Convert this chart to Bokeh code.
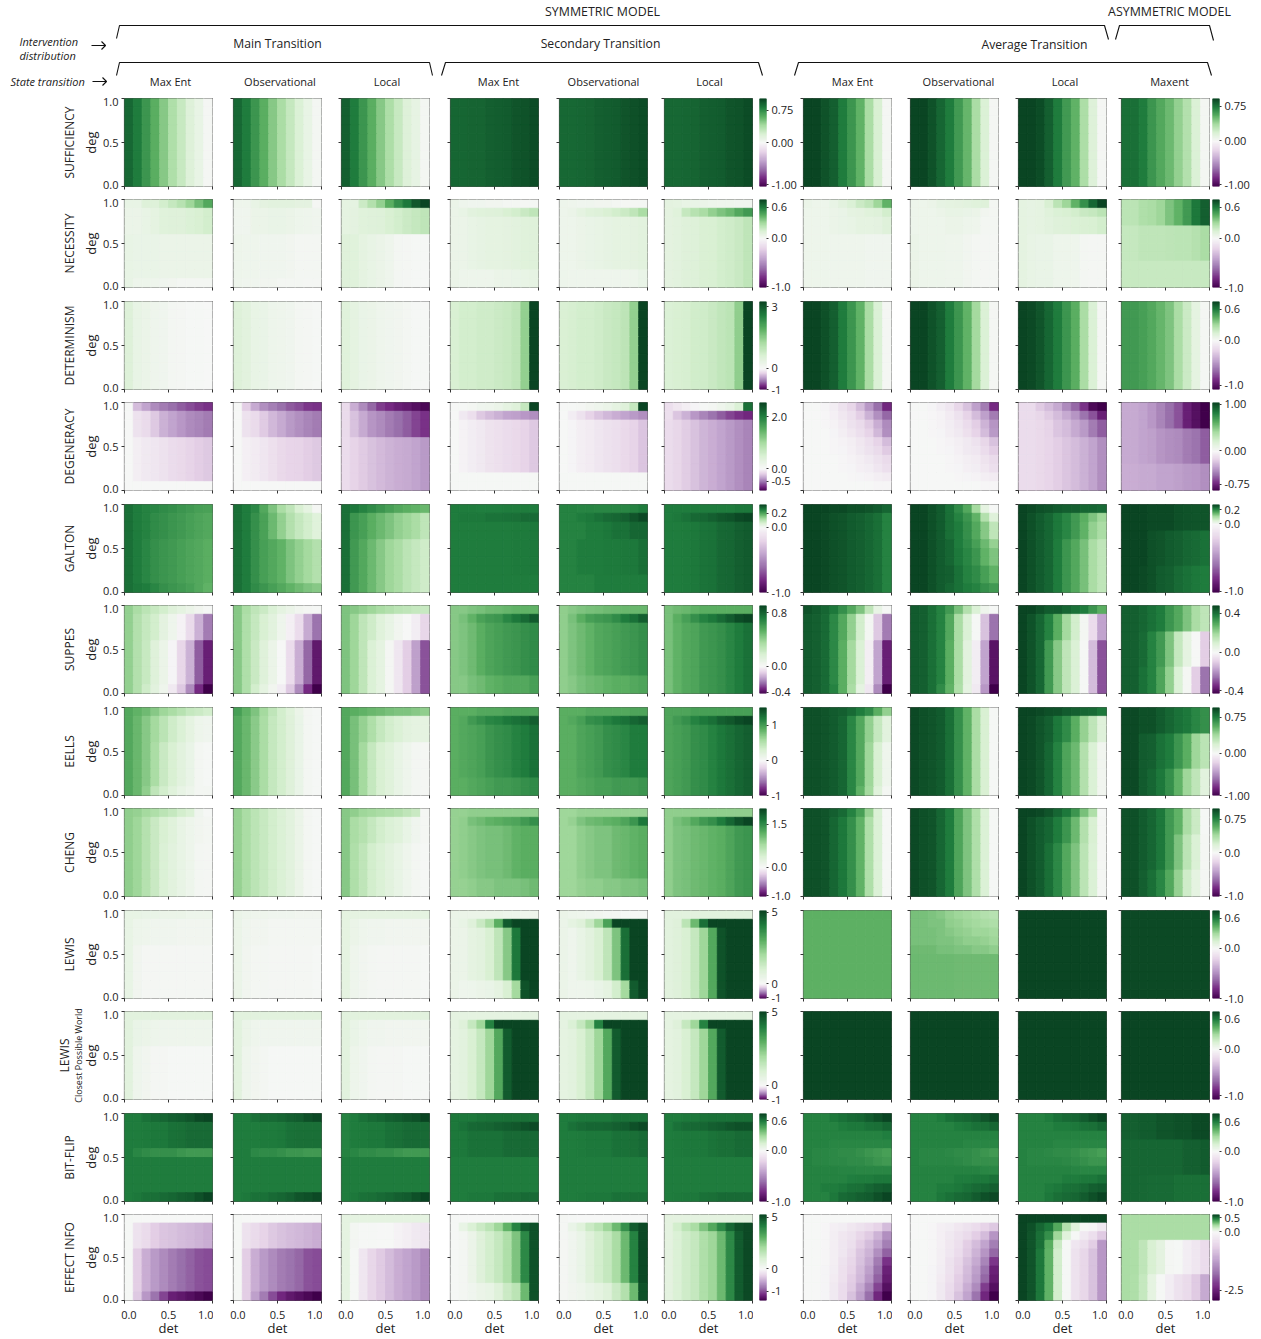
from bokeh.embed import file_html
from bokeh.resources import INLINE
from bokeh.plotting import figure
from bokeh.layouts import column, row
from bokeh.models import (ColumnDataSource, LinearColorMapper, LinearAxis, FixedTicker, Range1d)
from bokeh.transform import transform
from bokeh.core.properties import value

FONT = "Open Sans"

# ---- chart text ----
row_titles = ["SUFFICIENCY", "NECESSITY", "DETERMINISM", "DEGENERACY", "GALTON", "SUPPES",
              "EELLS", "CHENG", "LEWIS", "LEWIS", "BIT-FLIP", "EFFECT INFO"]
col_titles = ["Max Ent", "Observational", "Local", "Max Ent", "Observational", "Local",
              "Max Ent", "Observational", "Local", "Maxent"]

# ---- values: colour level of each cell (-100 purple .. 0 white .. 100 green) ----
# one entry per panel; each panel lists (number of rows, 10 det cells) from deg=1 downwards
sufficiency = [
 [(10,[87,80,70,60,48,36,27,17,10,2])],
 [(10,[87,80,70,60,48,38,28,18,10,3])],
 [(10,[90,80,70,60,48,37,27,17,11,3])],
 [(10,[88,88,89,89,90,91,92,94,95,97])],
 [(10,[87,87,88,89,90,91,92,94,96,97])],
 [(10,[87,87,88,89,90,91,92,94,95,97])],
 [(10,[100,100,95,90,80,70,58,38,20,2])],
 [(10,[100,100,95,88,80,68,57,38,18,2])],
 [(10,[100,100,97,90,80,68,58,37,17,2])],
 [(10,[85,85,80,70,62,55,45,35,18,3])],
]
necessity = [
 [(1,[10,10,17,17,22,28,33,42,52,62]),(3,[8,8,10,12,15,16,16,18,20,22]),(5,[10,9,9,9,8,8,8,8,8,8]),(1,[10,7,7,6,5,4,3,3,3,3])],
 [(1,[6,6,10,13,14,14,14,13,13,2]),(3,[5,5,8,8,9,9,8,7,6,5]),(5,[7,6,6,5,5,5,4,3,3,3]),(1,[6,5,5,4,4,3,3,3,2,2])],
 [(1,[12,12,25,35,45,60,72,82,93,100]),(3,[12,13,15,16,17,20,22,25,28,30]),(6,[16,15,12,10,8,6,3,2,1,1])],
 [(1,[8,6,5,5,4,4,3,3,2,2]),(1,[8,10,14,15,16,17,20,22,26,30]),(6,[8,8,10,11,12,12,13,14,15,16]),(2,[8,7,7,7,7,8,8,9,10,11])],
 [(1,[7,6,5,5,4,4,3,2,2,2]),(1,[7,8,12,15,17,19,22,25,30,38]),(6,[7,7,8,9,10,11,12,12,13,14]),(2,[7,6,6,6,6,6,6,6,7,9])],
 [(1,[13,12,10,9,8,7,6,6,5,5]),(1,[13,15,28,33,38,45,50,55,62,68]),(8,[13,14,16,17,19,20,22,24,26,30])],
 [(1,[8,7,7,10,14,18,25,30,42,58]),(1,[7,7,7,8,9,12,13,15,17,22]),(2,[7,7,7,8,9,10,12,12,13,16]),(6,[7,7,7,6,6,6,6,5,5,5])],
 [(1,[7,7,8,11,12,13,14,15,16,3]),(1,[7,7,7,8,10,10,9,8,4,3]),(2,[7,7,7,7,8,8,7,6,3,3]),(6,[8,7,7,7,6,6,4,3,2,2])],
 [(1,[12,11,12,20,32,42,58,72,88,100]),(1,[12,11,12,15,18,20,22,26,28,32]),(2,[12,11,12,14,16,17,18,19,20,22]),(6,[12,10,9,9,7,7,6,3,2,2])],
 [(3,[32,32,36,38,42,50,58,68,82,90]),(4,[28,28,30,30,30,31,32,32,34,38]),(3,[27,27,27,27,27,27,27,27,27,27])],
]
determinism = [
 [(10,[17,10,8,6,5,3,2,1,1,0])],
 [(10,[17,14,10,9,7,6,5,3,2,1])],
 [(10,[15,12,9,8,6,5,4,3,1,1])],
 [(10,[20,22,22,24,24,25,27,30,45,100])],
 [(10,[19,21,22,22,24,26,28,31,45,100])],
 [(10,[18,20,21,23,24,26,29,32,46,100])],
 [(10,[100,100,96,90,80,70,58,38,18,2])],
 [(10,[100,100,95,90,80,70,58,40,18,2])],
 [(10,[100,98,94,88,80,70,60,38,18,2])],
 [(10,[68,68,66,62,57,50,38,25,12,2])],
]
degeneracy = [
 [(1,[0,-30,-40,-50,-55,-60,-65,-70,-75,-78]),(3,[0,-12,-16,-25,-35,-40,-45,-50,-52,-55]),(5,[0,-5,-8,-10,-12,-15,-17,-20,-22,-25]),(1,[0,0,0,0,0,0,0,0,0,0])],
 [(1,[0,-22,-38,-48,-54,-60,-66,-70,-76,-78]),(3,[0,-12,-16,-24,-32,-38,-44,-48,-52,-55]),(5,[0,-4,-7,-10,-13,-17,-19,-20,-22,-25]),(1,[0,0,0,0,0,0,0,0,0,0])],
 [(1,[-16,-36,-50,-62,-75,-80,-85,-88,-92,-96]),(3,[-16,-28,-38,-46,-50,-55,-60,-65,-72,-78]),(6,[-15,-20,-24,-28,-31,-34,-36,-38,-40,-44])],
 [(1,[0,1,3,5,6,8,12,16,28,100]),(1,[0,-8,-14,-25,-30,-35,-40,-42,-45,-48]),(6,[0,-3,-6,-8,-11,-13,-15,-17,-20,-25]),(2,[1,1,1,1,1,1,1,1,1,1])],
 [(1,[0,1,2,4,6,8,12,16,28,100]),(1,[0,-6,-12,-20,-26,-32,-36,-40,-44,-48]),(6,[0,-2,-5,-7,-10,-12,-14,-17,-20,-26]),(2,[1,1,1,1,1,1,1,1,1,1])],
 [(1,[-14,-9,-5,-2,1,3,6,10,18,85]),(1,[-14,-26,-35,-45,-52,-58,-65,-72,-78,-82]),(8,[-15,-18,-23,-28,-33,-36,-40,-44,-48,-52])],
 [(1,[0,0,-2,-6,-12,-18,-30,-45,-60,-82]),(1,[0,0,-1,-4,-9,-14,-22,-35,-48,-62]),(1,[0,0,-1,-3,-7,-12,-16,-24,-36,-50]),(1,[0,0,0,-2,-5,-9,-14,-20,-32,-48]),(1,[0,0,0,-1,-3,-5,-9,-14,-20,-30]),(1,[0,0,0,-1,-2,-4,-8,-12,-16,-24]),(1,[0,0,0,0,-1,-3,-5,-8,-12,-16]),(1,[0,0,0,0,-1,-2,-4,-6,-10,-14]),(1,[0,0,0,0,0,-1,-2,-3,-5,-7]),(1,[0,0,0,0,0,0,0,0,-1,-1])],
 [(1,[0,0,-2,-6,-10,-18,-28,-42,-55,-80]),(1,[0,0,-1,-3,-7,-12,-20,-30,-42,-55]),(1,[0,0,-1,-3,-6,-10,-15,-22,-34,-46]),(1,[0,0,-1,-2,-5,-8,-13,-20,-30,-44]),(1,[0,0,0,-1,-3,-5,-8,-12,-18,-28]),(1,[0,0,0,-1,-2,-4,-8,-10,-15,-22]),(1,[0,0,0,0,-1,-3,-5,-7,-11,-16]),(1,[0,0,0,0,-1,-2,-4,-6,-9,-14]),(1,[0,0,0,0,0,-1,-2,-3,-5,-7]),(1,[0,0,0,0,0,0,0,0,-1,-1])],
 [(1,[-15,-15,-24,-30,-38,-50,-62,-78,-95,-100]),(1,[-15,-15,-18,-24,-30,-38,-46,-58,-68,-85]),(2,[-15,-15,-17,-20,-26,-30,-38,-44,-55,-65]),(6,[-15,-15,-17,-19,-22,-26,-30,-35,-40,-48])],
 [(3,[-38,-38,-40,-45,-52,-60,-68,-85,-92,-100]),(4,[-38,-38,-40,-42,-46,-48,-50,-55,-58,-65]),(3,[-36,-36,-38,-38,-40,-40,-42,-44,-45,-48])],
]
galton = [
 [(1,[85,80,78,76,74,72,70,68,66,65]),(3,[85,80,78,74,72,70,68,66,64,62]),(5,[85,80,76,72,70,68,66,64,62,60]),(1,[85,82,80,76,72,70,68,66,62,58])],
 [(1,[85,80,75,62,50,38,30,20,12,2]),(3,[85,80,72,65,55,45,35,28,22,15]),(5,[85,80,72,66,62,58,50,45,40,35]),(1,[85,80,74,70,66,62,58,54,50,48])],
 [(1,[85,82,78,74,70,66,62,60,58,56]),(3,[85,70,66,60,55,50,45,42,38,30]),(6,[85,68,62,55,48,42,38,32,28,24])],
 [(1,[80,80,80,79,79,79,80,80,80,80]),(1,[80,82,82,82,83,83,84,85,86,86]),(6,[80,80,80,80,80,80,80,81,81,82]),(2,[80,80,80,80,80,80,80,80,80,80])],
 [(1,[78,78,77,77,76,76,76,76,78,80]),(1,[78,78,80,82,84,86,88,90,94,98]),(2,[78,78,78,80,80,82,84,84,88,88]),(4,[78,78,80,80,80,81,81,82,82,85]),(2,[78,78,78,78,80,80,80,80,80,80])],
 [(1,[80,80,80,80,80,80,80,80,82,82]),(1,[80,82,84,87,88,90,93,95,98,100]),(8,[80,80,81,82,83,84,87,88,90,92])],
 [(1,[100,100,100,98,98,96,96,94,92,88]),(9,[100,100,98,96,94,92,90,88,85,78])],
 [(1,[100,100,96,92,84,74,62,40,12,1]),(1,[100,100,96,92,85,78,70,58,35,16]),(2,[100,100,96,92,85,80,72,62,48,30]),(1,[100,100,96,92,88,80,74,66,55,44]),(2,[100,100,96,92,88,82,76,70,58,50]),(2,[100,100,96,92,90,84,78,74,66,58]),(1,[100,100,96,92,88,84,80,78,72,68])],
 [(1,[100,98,96,94,92,90,90,88,88,86]),(1,[100,96,92,88,82,76,68,60,50,42]),(2,[100,96,92,88,82,76,68,58,45,38]),(6,[100,96,92,88,80,70,62,52,38,30])],
 [(3,[100,100,100,98,98,98,96,95,94,94]),(4,[100,100,100,96,94,92,90,88,86,84]),(3,[100,100,98,96,92,90,86,84,82,80])],
]
suppes = [
 [(1,[45,38,32,27,22,16,12,8,4,1]),(3,[45,35,28,22,13,6,-3,-16,-35,-55]),(5,[45,35,27,16,8,-2,-18,-35,-65,-85]),(1,[45,35,24,14,6,-8,-25,-50,-80,-100])],
 [(1,[48,38,30,25,18,12,8,4,2,1]),(3,[48,36,28,20,14,6,-4,-15,-38,-58]),(5,[48,36,26,16,8,0,-15,-36,-62,-88]),(1,[48,36,22,12,4,-6,-25,-50,-80,-100])],
 [(1,[50,48,45,42,38,35,32,30,28,27]),(3,[50,42,30,24,15,10,4,0,-6,-18]),(6,[50,42,30,18,12,2,-10,-22,-42,-68])],
 [(1,[48,48,50,52,54,55,57,58,58,58]),(1,[48,52,58,65,68,70,76,82,86,92]),(6,[48,50,54,60,64,66,68,70,72,74]),(2,[48,48,52,54,58,60,62,62,62,66])],
 [(1,[46,48,50,52,53,54,55,56,56,56]),(1,[46,52,60,66,68,70,74,80,84,90]),(6,[46,50,54,58,62,64,66,68,70,72]),(2,[46,48,52,54,56,58,60,60,62,64])],
 [(1,[52,54,56,58,60,60,60,60,60,60]),(1,[52,60,66,72,78,82,86,92,97,100]),(8,[52,58,62,64,68,70,72,76,80,84])],
 [(1,[95,92,88,82,72,62,50,30,10,1]),(3,[92,90,86,75,62,45,22,3,-25,-55]),(5,[92,90,86,75,60,40,18,-5,-40,-85]),(1,[92,90,86,78,60,38,12,-10,-50,-100])],
 [(1,[92,90,85,78,68,52,35,18,6,1]),(3,[92,90,85,78,62,38,18,1,-28,-58]),(5,[92,90,85,78,60,38,14,-6,-40,-90]),(1,[92,90,85,74,58,36,12,-8,-45,-100])],
 [(1,[100,100,96,92,92,88,84,80,70,60]),(3,[100,95,88,78,60,40,22,3,-15,-40]),(6,[100,95,88,68,48,30,18,1,-30,-68])],
 [(3,[90,90,88,84,80,70,62,50,38,30]),(4,[90,90,86,78,68,50,28,12,0,-22]),(3,[90,90,84,78,64,45,18,2,-22,-58])],
]
eells = [
 [(1,[62,58,54,48,42,38,33,28,25,22]),(3,[62,56,48,40,32,24,18,12,7,5]),(5,[62,56,48,38,26,20,14,9,3,1]),(1,[62,56,46,30,22,15,10,7,3,3])],
 [(1,[66,58,50,40,30,22,15,8,3,1]),(9,[62,56,47,38,28,22,16,9,3,1])],
 [(1,[62,60,58,56,54,52,50,50,48,46]),(3,[62,52,44,36,28,22,18,14,12,12]),(6,[62,52,40,28,20,15,10,6,3,2])],
 [(1,[60,60,60,62,62,62,64,64,64,64]),(1,[60,62,68,72,76,78,82,84,86,90]),(6,[60,62,64,66,70,72,74,78,80,84]),(2,[60,60,62,64,66,68,68,70,72,74])],
 [(1,[60,60,60,62,62,62,62,62,64,64]),(1,[60,62,66,72,74,78,82,84,88,90]),(6,[60,60,64,66,68,72,74,76,80,80]),(2,[60,60,62,64,66,66,68,68,68,70])],
 [(1,[64,64,64,66,66,66,66,66,66,66]),(1,[64,68,72,78,82,85,90,93,97,100]),(8,[64,66,68,72,74,78,82,85,88,90])],
 [(1,[96,96,94,92,90,86,80,74,60,45]),(3,[96,96,94,92,88,76,62,45,28,14]),(5,[96,96,94,92,88,76,62,42,20,6]),(1,[96,96,94,92,88,76,58,40,15,3])],
 [(10,[98,96,94,92,85,72,58,38,20,1])],
 [(1,[100,100,98,96,95,92,90,88,86,82]),(3,[100,98,94,90,82,74,60,44,30,16]),(6,[100,98,94,88,78,64,55,35,18,4])],
 [(3,[98,98,96,96,92,88,84,82,76,72]),(4,[98,98,92,90,84,80,70,60,42,32]),(3,[98,98,92,88,82,72,58,42,30,14])],
]
cheng = [
 [(1,[46,44,40,36,32,28,22,18,5,1]),(3,[46,42,34,26,20,15,10,7,4,3]),(6,[46,42,34,26,18,14,10,7,3,2])],
 [(10,[44,38,32,27,22,18,14,8,3,1])],
 [(1,[48,46,42,40,38,36,34,30,26,2]),(3,[48,38,34,28,22,18,15,10,5,2]),(6,[48,36,30,22,18,14,10,6,3,1])],
 [(1,[44,44,46,46,46,46,46,46,46,46]),(1,[44,46,52,54,58,60,62,64,68,72]),(6,[44,46,48,50,52,52,54,58,60,60]),(2,[44,44,46,48,48,50,50,50,52,54])],
 [(1,[42,42,44,44,44,44,44,44,44,44]),(1,[42,44,50,54,56,58,60,64,70,82]),(6,[42,42,46,48,50,50,54,56,58,60]),(2,[42,42,44,46,46,48,48,50,50,52])],
 [(1,[46,46,46,46,46,46,46,46,46,46]),(1,[46,52,56,62,68,72,80,88,95,100]),(8,[46,50,52,54,56,58,60,64,68,70])],
 [(1,[96,96,94,90,86,78,66,44,18,1]),(9,[96,96,94,88,82,72,58,36,18,1])],
 [(10,[98,96,94,88,80,64,50,36,18,1])],
 [(1,[100,100,98,94,88,82,70,52,36,1]),(3,[100,96,92,88,80,70,55,35,20,2]),(6,[100,96,92,85,75,62,50,32,18,2])],
 [(3,[96,96,92,88,82,68,58,38,25,1]),(4,[96,96,92,88,82,68,50,32,18,2]),(3,[96,96,90,85,76,62,44,24,12,2])],
]
lewis = [
 [(1,[10,10,9,9,8,8,8,7,7,7]),(3,[10,7,6,5,5,5,4,4,4,4]),(6,[10,4,2,2,2,2,2,2,2,2])],
 [(1,[8,7,6,6,5,5,5,4,4,4]),(3,[8,5,4,4,3,3,3,3,3,3]),(6,[8,4,3,3,2,2,2,2,2,1])],
 [(1,[12,12,12,12,12,12,12,12,12,12]),(3,[12,8,6,5,5,4,4,4,4,4]),(6,[12,6,4,3,2,2,2,2,2,1])],
 [(1,[8,8,8,8,8,8,7,7,6,6]),(1,[8,10,16,26,38,60,92,100,100,100]),(6,[8,8,12,14,20,30,48,82,100,100]),(2,[8,6,7,8,9,12,20,40,95,100])],
 [(1,[8,7,6,5,4,3,2,1,1,1]),(1,[8,12,16,26,42,65,100,100,100,100]),(6,[8,6,10,14,20,30,50,85,100,100]),(2,[8,6,6,7,9,12,22,40,92,100])],
 [(1,[14,14,14,14,14,14,14,14,14,14]),(1,[14,16,32,55,85,100,100,100,100,100]),(8,[14,16,20,28,42,62,95,100,100,100])],
 [(10,[59,59,59,59,59,59,59,59,59,59])],
 [(1,[52,52,50,48,44,42,40,38,35,33]),(1,[52,52,50,50,46,44,42,40,38,36]),(1,[52,52,52,50,48,46,44,42,42,40]),(1,[52,52,52,50,50,48,46,46,44,42]),(1,[54,54,54,52,52,50,50,48,48,46]),(5,[55,55,55,55,55,54,54,54,54,54])],
 [(10,[100,100,100,100,100,100,100,100,100,100])],
 [(10,[98,98,98,98,98,98,98,98,98,98])],
]
lewis_closest = [
 [(1,[14,14,14,14,14,14,14,14,14,14]),(3,[14,9,8,7,6,6,6,6,6,6]),(6,[14,6,4,2,2,1,1,1,1,1])],
 [(1,[14,14,14,14,14,14,14,14,14,14]),(3,[14,8,6,5,5,5,5,5,5,5]),(6,[14,6,4,3,1,1,1,1,1,1])],
 [(1,[14,14,14,14,14,14,14,14,14,14]),(3,[14,9,7,5,5,4,4,4,4,4]),(6,[14,7,5,3,2,2,2,1,1,1])],
 [(1,[12,12,12,12,12,12,12,12,12,12]),(1,[12,16,28,42,78,100,100,100,100,100]),(8,[12,14,20,28,42,62,92,100,100,100])],
 [(1,[12,12,12,12,12,12,12,12,12,12]),(1,[12,18,28,42,78,100,100,100,100,100]),(8,[12,14,20,28,42,62,92,100,100,100])],
 [(1,[12,12,12,12,12,12,12,12,12,12]),(1,[12,16,28,42,78,100,100,100,100,100]),(8,[12,14,20,28,42,62,92,100,100,100])],
 [(10,[100,100,100,100,100,100,100,100,100,100])],
 [(10,[100,100,100,100,100,100,100,100,100,100])],
 [(10,[100,100,100,100,100,100,100,100,100,100])],
 [(10,[100,100,100,100,100,100,100,100,100,100])],
]
bit_flip = [
 [(1,[80,80,84,86,88,90,92,94,98,100]),(3,[80,80,81,82,82,84,85,86,86,86]),(1,[80,76,74,72,72,72,70,68,68,68]),(4,[80,80,80,80,80,80,80,80,80,80]),(1,[80,82,84,85,86,88,90,92,96,100])],
 [(1,[80,80,84,86,86,88,90,92,96,98]),(3,[80,80,80,81,81,82,84,85,85,85]),(1,[80,80,75,74,74,72,70,70,68,68]),(4,[80,80,80,80,80,80,80,80,80,80]),(1,[80,82,84,84,86,88,90,94,96,98])],
 [(1,[78,80,84,86,88,90,92,94,96,100]),(3,[78,80,81,82,82,84,85,86,86,86]),(1,[78,76,74,74,72,72,70,68,68,68]),(4,[80,80,80,80,80,80,80,80,80,80]),(1,[80,82,84,85,86,88,90,92,96,100])],
 [(1,[82,82,82,83,84,84,85,85,85,85]),(1,[82,84,87,88,89,90,92,93,96,98]),(3,[82,82,84,84,84,84,86,86,87,87]),(4,[80,80,80,80,80,80,80,80,80,80]),(1,[80,80,82,82,82,84,85,85,86,86])],
 [(1,[80,80,82,82,82,82,84,84,84,84]),(1,[80,84,86,88,88,89,90,92,96,98]),(3,[80,80,81,82,82,82,84,84,85,86]),(4,[80,80,80,80,80,80,80,80,80,80]),(1,[80,80,81,82,82,82,84,84,85,85])],
 [(1,[80,80,82,82,83,84,84,84,85,85]),(1,[80,84,86,87,88,90,92,94,96,96]),(3,[80,81,82,82,82,83,85,85,86,86]),(4,[80,80,80,80,80,80,80,80,80,80]),(1,[80,81,82,82,84,85,86,86,86,86])],
 [(1,[78,78,78,82,84,86,88,92,96,100]),(1,[78,78,78,78,80,82,82,84,85,88]),(1,[78,78,78,78,78,78,78,78,78,79]),(1,[78,78,78,76,76,76,76,76,76,76]),(1,[78,76,76,75,74,74,72,70,68,66]),(1,[78,76,76,75,75,74,74,72,70,68]),(1,[78,78,78,78,77,77,76,76,76,76]),(1,[78,78,78,78,78,79,80,80,82,82]),(1,[78,78,80,80,82,84,85,88,90,92]),(1,[78,78,78,82,86,88,90,92,96,100])],
 [(1,[78,78,78,80,84,86,88,90,94,98]),(1,[78,78,78,78,78,80,82,84,85,88]),(1,[78,78,78,78,78,78,78,78,78,78]),(1,[78,78,78,78,78,78,76,76,76,76]),(1,[78,76,76,76,75,74,74,72,70,68]),(1,[78,76,76,76,76,75,74,72,72,72]),(1,[78,78,78,78,78,78,78,78,76,76]),(1,[78,78,78,78,78,80,80,82,82,84]),(1,[78,78,78,80,80,82,84,86,88,90]),(1,[78,78,78,82,84,86,88,92,96,98])],
 [(1,[78,78,78,80,84,86,88,92,96,100]),(1,[78,78,78,78,80,80,82,84,85,88]),(1,[78,78,78,78,78,78,78,78,78,78]),(1,[78,78,78,78,76,76,76,76,76,76]),(1,[78,76,76,75,74,74,72,70,68,66]),(1,[78,76,76,76,76,75,74,72,70,70]),(1,[78,78,78,78,78,78,77,76,76,76]),(1,[78,78,78,78,78,80,80,82,82,84]),(1,[78,78,78,80,82,84,85,87,90,92]),(1,[78,78,78,82,85,86,88,92,96,100])],
 [(3,[90,90,92,92,94,94,96,96,98,98]),(4,[88,88,88,88,88,88,88,90,90,92]),(3,[88,88,87,86,86,86,85,85,85,85])],
]
effect_info = [
 [(1,[1,0,0,0,0,0,0,0,0,0]),(3,[1,-12,-16,-22,-26,-28,-30,-32,-34,-36]),(5,[1,-22,-36,-44,-50,-55,-60,-64,-68,-70]),(1,[1,-25,-45,-58,-72,-85,-88,-92,-96,-100])],
 [(1,[1,0,0,0,0,0,0,0,0,0]),(3,[1,-12,-16,-20,-25,-28,-30,-32,-34,-36]),(5,[1,-22,-36,-44,-50,-55,-58,-62,-68,-70]),(1,[1,-22,-42,-55,-70,-82,-88,-92,-96,-100])],
 [(1,[12,12,12,12,12,12,12,12,12,12]),(3,[12,3,1,1,0,0,-3,-5,-8,-10]),(6,[12,1,-10,-18,-24,-30,-36,-40,-44,-50])],
 [(1,[1,0,0,0,0,0,0,0,0,0]),(1,[1,10,18,25,32,42,58,78,92,96]),(6,[1,3,8,16,22,28,36,50,75,95]),(2,[1,3,5,8,10,16,25,32,55,95])],
 [(1,[2,1,0,0,0,0,0,0,0,0]),(1,[2,9,15,25,32,42,55,72,92,98]),(6,[2,5,9,16,22,28,38,55,78,98]),(2,[2,4,6,9,12,16,25,35,55,95])],
 [(1,[13,13,13,13,13,13,13,13,13,13]),(1,[13,22,32,38,50,62,75,88,96,98]),(8,[13,18,24,28,36,42,55,75,92,98])],
 [(1,[0,0,0,0,0,0,0,0,0,0]),(1,[0,0,-1,-4,-6,-9,-12,-15,-20,-30]),(1,[0,0,-1,-5,-9,-12,-18,-24,-34,-48]),(1,[0,0,-1,-5,-10,-14,-22,-30,-40,-54]),(1,[0,0,-1,-5,-10,-16,-26,-34,-48,-64]),(1,[0,0,-1,-5,-12,-18,-28,-38,-55,-78]),(1,[0,0,-2,-6,-13,-20,-30,-42,-60,-84]),(1,[0,0,-2,-7,-13,-22,-32,-45,-64,-86]),(1,[0,0,-2,-8,-15,-24,-38,-52,-72,-92]),(1,[0,0,-2,-8,-15,-28,-42,-60,-82,-100])],
 [(1,[0,0,0,0,0,0,0,0,0,0]),(1,[0,0,-1,-4,-6,-9,-12,-15,-20,-25]),(1,[0,0,-1,-4,-8,-12,-16,-22,-30,-46]),(1,[0,0,-1,-4,-9,-14,-22,-30,-40,-54]),(1,[0,0,-1,-5,-10,-15,-24,-34,-46,-62]),(1,[0,0,-1,-5,-12,-18,-28,-38,-52,-76]),(1,[0,0,-2,-6,-12,-20,-30,-42,-58,-84]),(1,[0,0,-2,-7,-13,-22,-32,-44,-62,-86]),(1,[0,0,-2,-8,-15,-24,-36,-50,-75,-92]),(1,[0,0,-2,-8,-16,-28,-40,-58,-82,-100])],
 [(1,[100,100,100,100,100,100,100,100,100,100]),(1,[100,96,88,82,62,35,15,1,-2,-8]),(1,[100,94,85,72,42,15,1,-8,-14,-24]),(1,[100,94,85,60,25,1,-10,-14,-22,-45]),(6,[100,94,82,58,22,1,-12,-18,-28,-45])],
 [(3,[38,38,38,38,38,38,38,38,38,38]),(4,[38,37,30,20,13,2,1,-6,-10,-15]),(3,[38,36,28,12,1,-6,-12,-16,-24,-38])],
]
panels = [sufficiency, necessity, determinism, degeneracy, galton, suppes, eells, cheng,
          lewis, lewis_closest, bit_flip, effect_info]

# colour bars: (tick labels, tick positions along the bar, bottom=0, top=1)
bar_labels_a = [["0.75","0.00","-1.00"],["0.6","0.0","-1.0"],["3","0","-1"],["2.0","0.0","-0.5"],
                ["0.2","0.0","-1.0"],["0.8","0.0","-0.4"],["1","0","-1"],["1.5","0.0","-1.0"],
                ["5","0","-1"],["5","0","-1"],["0.6","0.0","-1.0"],["5","0","-1"]]
bar_pos_a = [[.864,.50,.02],[.91,.56,.01],[.94,.24,.0],[.84,.25,.105],[.90,.74,.0],[.92,.31,.015],
             [.80,.40,.0],[.82,.33,.01],[.98,.17,.01],[.99,.16,.0],[.92,.58,.0],[.97,.37,.11]]
bar_labels_b = [["0.75","0.00","-1.00"],["0.6","0.0","-1.0"],["0.6","0.0","-1.0"],["1.00","0.00","-0.75"],
                ["0.2","0.0","-1.0"],["0.4","0.0","-0.4"],["0.75","0.00","-1.00"],["0.75","0.0","-1.0"],
                ["0.6","0.0","-1.0"],["0.6","0.0","-1.0"],["0.6","0.0","-1.0"],["0.5","0.0","-2.5"]]
bar_pos_b = [[.91,.52,.02],[.91,.56,.0],[.91,.56,.05],[.98,.45,.07],[.94,.78,.015],[.91,.47,.03],
             [.89,.48,.0],[.88,.50,.01],[.91,.57,.0],[.91,.57,.04],[.90,.57,.0],[.96,.80,.12]]

# ---- layout ----
col_left = [124, 233, 341, 450, 559, 664, 803, 910, 1018, 1121]
row_top = [98, 199, 301, 402, 504, 605, 707, 808, 910, 1011, 1113, 1214]
PAGE_BOTTOM = 1339
FRAME_W, FRAME_H, BAR_W = 88, 88, 7
BORDER_TOP = 6
HEADER_H = row_top[0] - BORDER_TOP
TICK = "#333333"
TEXT = "#222222"
LABEL_SIZE = "11px"

anchors = ["#40004b","#762a83","#9970ab","#c2a5cf","#e7d4e8","#f7f7f7","#d9f0d3","#a6dba0","#5aae61","#1f7d3e","#0a4523"]
def hex2rgb(h): return [int(h[i:i+2], 16) for i in (1, 3, 5)]
def colour(u):
    p = max(0.0, min(1.0, u)) * 10
    i = min(int(p), 9); f = p - i
    a, b = hex2rgb(anchors[i]), hex2rgb(anchors[i + 1])
    return "#%02x%02x%02x" % tuple(round(a[k] + (b[k] - a[k]) * f) for k in range(3))
PALETTE = [colour(i / 255) for i in range(256)]
mapper = LinearColorMapper(palette=PALETTE, low=-100, high=100)


def style_axis(ax, labelled=False):
    ax.axis_line_color = None
    ax.major_tick_line_color = TICK
    ax.major_tick_in = 0
    ax.major_tick_out = 3
    ax.minor_tick_line_color = None
    ax.major_label_text_font = FONT
    ax.major_label_text_color = TEXT if labelled else None
    ax.major_label_text_font_size = LABEL_SIZE
    ax.major_label_standoff = 2
    if not labelled:
        ax.major_label_overrides = {0: "", 0.5: "", 1: ""}


def side_title(p, text, size, standoff):
    a = LinearAxis(ticker=FixedTicker(ticks=[]), axis_label=text, axis_line_color=None,
                   major_tick_line_color=None, minor_tick_line_color=None, major_tick_out=0, major_tick_in=0,
                   major_label_standoff=0,
                   axis_label_text_font=FONT, axis_label_text_font_size=size, axis_label_text_font_style="normal",
                   axis_label_text_color=TEXT, axis_label_standoff=standoff)
    p.add_layout(a, "left")


def panel_fig(r, c, width, height, left, bottom):
    p = figure(width=width, height=height, x_range=Range1d(0, 1), y_range=Range1d(0, 1),
               toolbar_location=None, output_backend="svg", x_axis_location=None, y_axis_location=None,
               min_border_left=left, min_border_right=1, min_border_top=BORDER_TOP, min_border_bottom=bottom)
    p.grid.visible = False
    p.background_fill_color = None
    p.border_fill_color = None
    p.outline_line_color = "#555555"
    p.outline_line_width = 1.2
    xs0, xs1, ys0, ys1, vals = [], [], [], [], []
    rr = 10
    for n, cells in panels[r][c]:
        for _ in range(n):
            rr -= 1
            for i, v in enumerate(cells):
                xs0.append(i / 10); xs1.append((i + 1) / 10)
                ys0.append(rr / 10); ys1.append((rr + 1) / 10)
                vals.append(v)
    src = ColumnDataSource(dict(l=xs0, r=xs1, b=ys0, t=ys1, v=vals))
    p.quad(left="l", right="r", bottom="b", top="t", source=src,
           fill_color=transform("v", mapper), line_color=transform("v", mapper), line_width=0.9)
    xax = LinearAxis(ticker=FixedTicker(ticks=[0, 0.5, 1])); style_axis(xax)
    yax = LinearAxis(ticker=FixedTicker(ticks=[0, 0.5, 1])); style_axis(yax)
    p.add_layout(xax, "below"); p.add_layout(yax, "left")
    if r == 11:
        a = LinearAxis(ticker=FixedTicker(ticks=[0.05, 0.5, 0.95]),
                       major_label_overrides={0.05: "0.0", 0.5: "0.5", 0.95: "1.0"},
                       axis_label="det", axis_label_text_font=FONT, axis_label_text_font_size="13px",
                       axis_label_text_font_style="normal", axis_label_text_color=TEXT, axis_label_standoff=-3)
        style_axis(a, True); a.major_tick_line_color = None; a.major_tick_out = 0
        a.major_label_standoff = 7
        p.add_layout(a, "below")
    if c == 0:
        a = LinearAxis(ticker=FixedTicker(ticks=[0.015, 0.5, 0.96]),
                       major_label_overrides={0.015: "0.0", 0.5: "0.5", 0.96: "1.0"},
                       axis_label="deg", axis_label_text_font=FONT, axis_label_text_font_size="13px",
                       axis_label_text_font_style="normal", axis_label_text_color=TEXT, axis_label_standoff=0)
        style_axis(a, True); a.major_tick_line_color = None; a.major_tick_out = 0
        a.major_label_standoff = 3
        p.add_layout(a, "left")
        if r == 9:
            side_title(p, "Closest Possible World", "9px", -5)
            side_title(p, "LEWIS", "12px", -4)
        else:
            side_title(p, row_titles[r], "12px", 2)
    return p


def bar_fig(labels, pos, width, height, left, bottom):
    p = figure(width=width, height=height, x_range=Range1d(0, 1), y_range=Range1d(0, 1),
               toolbar_location=None, output_backend="svg", x_axis_location=None, y_axis_location=None,
               min_border_left=left, min_border_right=width - left - BAR_W, min_border_top=BORDER_TOP,
               min_border_bottom=bottom)
    p.grid.visible = False
    p.background_fill_color = None
    p.border_fill_color = None
    p.outline_line_color = None
    zero = pos[1]
    n = FRAME_H
    b = [i / n for i in range(n)]
    t = [(i + 1) / n for i in range(n)]
    lv = []
    for i in range(n):
        f = (i + 0.5) / n
        lv.append(100 * ((f - zero) / zero if f < zero else (f - zero) / (1 - zero)))
    cols = [PALETTE[min(255, int((v + 100) / 200 * 256))] for v in lv]
    p.quad(left=0, right=1, bottom=b, top=t, fill_color=cols, line_color=cols, line_width=0.9)
    ax = LinearAxis(ticker=FixedTicker(ticks=pos), major_label_overrides={k: v for k, v in zip(pos, labels)})
    style_axis(ax, True)
    ax.major_tick_out = 2
    ax.major_label_standoff = 3
    p.add_layout(ax, "right")
    return p


def header():
    p = figure(width=1261, height=HEADER_H, x_range=Range1d(0, 1261), y_range=Range1d(HEADER_H, 0),
               toolbar_location=None, output_backend="svg", x_axis_location=None, y_axis_location=None,
               min_border=0)
    p.grid.visible = False
    p.outline_line_color = None
    p.background_fill_color = None
    p.border_fill_color = None
    braces = [([116,119,1104,1108],[38,25,25,39]), ([1115,1119,1209,1213],[39,25,25,40]),
              ([116,119,429,432],[75,62,62,75]), ([441,445,758,762],[75,62,62,75]),
              ([794,798,1207,1211],[75,62,62,75]),
              ([91,105],[45,45]), ([101,105,101],[41,45,49]), ([92,106],[81,81]), ([102,106,102],[77,81,85])]
    p.multi_line([b[0] for b in braces], [b[1] for b in braces], line_color="#111111", line_width=1.1)
    def txt(x, y, s, size, align="center", style="normal"):
        p.text([x], [y], text=[s], text_font=value(FONT), text_font_size=value(size), text_color=TEXT,
               text_align=align, text_baseline="middle", text_font_style=style)
    txt(602, 11, "SYMMETRIC MODEL", "12.4px")
    txt(1169, 11, "ASYMMETRIC MODEL", "12.4px")
    txt(277, 42.5, "Main Transition", "12.2px")
    txt(600, 42.5, "Secondary Transition", "12.2px")
    txt(1034, 43.5, "Average Transition", "12.2px")
    txt(19, 40.5, "Intervention", "11px", "left", "italic")
    txt(19, 54.5, "distribution", "11px", "left", "italic")
    txt(10, 80.5, "State transition", "11px", "left", "italic")
    for x, s in zip([170, 279.5, 386.5, 498, 603, 709, 852, 958, 1064.5, 1169], col_titles):
        txt(x, 80.5, s, "11px")
    return p


rows = [header()]
for r in range(12):
    slot_top = row_top[r] - BORDER_TOP
    slot_bottom = row_top[r + 1] - BORDER_TOP if r < 11 else PAGE_BOTTOM
    height_fig = slot_bottom - slot_top
    bottom = height_fig - FRAME_H - BORDER_TOP
    items, cursor = [], 0
    for c in range(10):
        left = col_left[c] - cursor
        w = left + FRAME_W + 1
        items.append(panel_fig(r, c, w, height_fig, left, bottom))
        cursor += w
        if c == 5:
            left = 759 - cursor
            w = left + BAR_W + 33
            items.append(bar_fig(bar_labels_a[r], bar_pos_a[r], w, height_fig, left, bottom))
            cursor += w
        if c == 9:
            left = 1212 - cursor
            w = left + BAR_W + 40
            items.append(bar_fig(bar_labels_b[r], bar_pos_b[r], w, height_fig, left, bottom))
            cursor += w
    rows.append(row(*items))

page = column(*rows)
open("out.html", "w").write(file_html(page, INLINE))
